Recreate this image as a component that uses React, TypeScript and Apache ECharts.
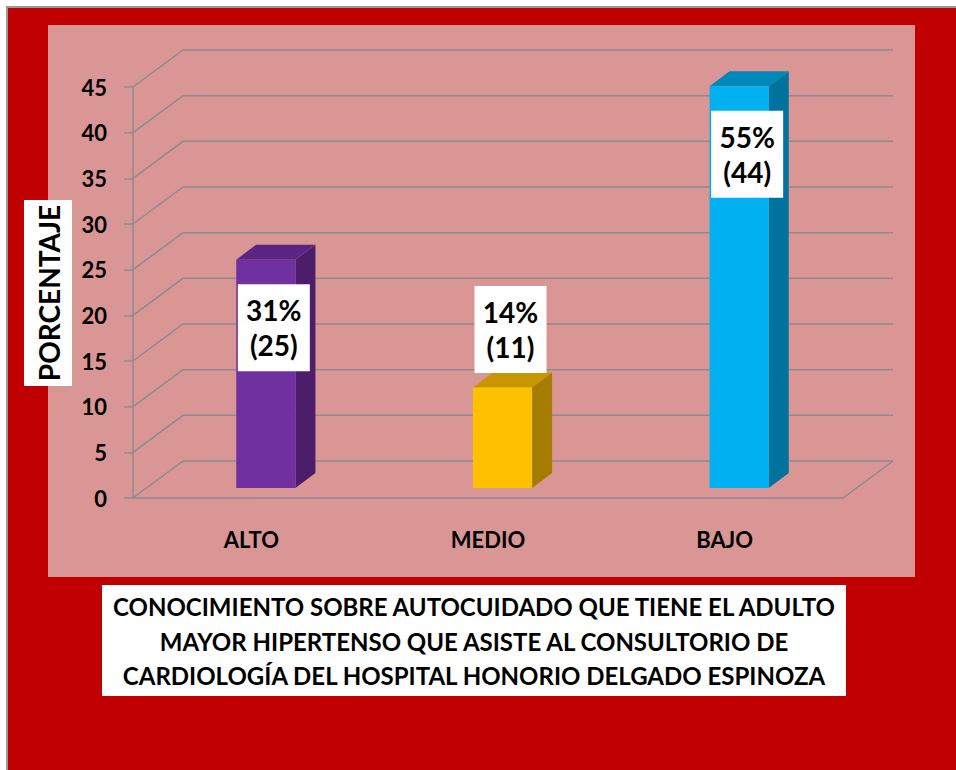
import React, { useEffect, useRef } from "react";
import * as echarts from "echarts";

const categories = ["ALTO", "MEDIO", "BAJO"];
const counts = [25, 11, 44];
const percents = [31, 14, 55];
const yTicks = [0, 5, 10, 15, 20, 25, 30, 35, 40, 45];
const yAxisTitle = "PORCENTAJE";
const titleLines = [
  "CONOCIMIENTO SOBRE AUTOCUIDADO QUE TIENE EL ADULTO",
  "MAYOR HIPERTENSO QUE ASISTE AL CONSULTORIO DE",
  "CARDIOLOGÍA DEL HOSPITAL HONORIO DELGADO ESPINOZA",
];

const palette = [
  { front: "#7030A0", side: "#4B1D6B", top: "#5A2585" },
  { front: "#FFC000", side: "#A67C00", top: "#C89600" },
  { front: "#00B0F0", side: "#00729E", top: "#0088BA" },
];

const FONT = "Lato, 'Noto Sans', sans-serif";
const GRID_COLOR = "#8C8C8C";
const WALL_DX = 50;
const WALL_DY = 37;
const BAR_OX = 14.5;
const BAR_OY = 10;
const SIDE_DX = 20;
const SIDE_DY = 15;

export default function App() {
  const ref = useRef<HTMLDivElement>(null);

  useEffect(() => {
    if (!ref.current) return;
    const chart = echarts.init(ref.current, undefined, { renderer: "svg" });

    const option: any = {
      animation: false,
      backgroundColor: "#FFFFFF",
      grid: { left: 133, right: 113, top: 87, bottom: 272, containLabel: false },
      xAxis: {
        type: "category",
        data: categories,
        axisLine: { show: true, lineStyle: { color: GRID_COLOR, width: 1.5 } },
        axisTick: { show: false },
        axisLabel: {
          color: "#000",
          fontFamily: FONT,
          fontWeight: "bold",
          fontSize: 22,
          margin: 30,
        },
        splitLine: { show: false },
      },
      yAxis: {
        type: "value",
        min: 0,
        max: 45,
        interval: 5,
        axisLine: { show: true, lineStyle: { color: GRID_COLOR, width: 1.5 } },
        axisTick: { show: true, length: 9, lineStyle: { color: GRID_COLOR, width: 1.5 } },
        axisLabel: {
          color: "#000",
          fontFamily: FONT,
          fontWeight: "bold",
          fontSize: 22,
          margin: 26,
        },
        splitLine: { show: false },
      },
      graphic: [
        {
          type: "rect",
          z: -10,
          shape: { x: 7, y: 7, width: 960, height: 770 },
          style: { fill: "#C00000", stroke: "#9A9A9A", lineWidth: 2 },
          silent: true,
        },
        {
          type: "rect",
          z: -9,
          shape: { x: 48, y: 25, width: 867, height: 552 },
          style: { fill: "#D99694" },
          silent: true,
        },
        {
          type: "rect",
          z: 10,
          shape: { x: 24, y: 200, width: 48, height: 186 },
          style: { fill: "#FFFFFF" },
          silent: true,
        },
        {
          type: "text",
          z: 11,
          x: 49,
          y: 293,
          rotation: Math.PI / 2,
          style: {
            text: yAxisTitle,
            fill: "#000",
            font: `bold 28px ${FONT}`,
            align: "center",
            verticalAlign: "middle",
          },
          silent: true,
        },
        {
          type: "rect",
          z: 10,
          shape: { x: 102, y: 585, width: 744, height: 111 },
          style: { fill: "#FFFFFF" },
          silent: true,
        },
        {
          type: "text",
          z: 11,
          x: 474,
          y: 641,
          style: {
            text: titleLines.join("\n"),
            fill: "#000",
            font: `bold 24px ${FONT}`,
            lineHeight: 34.5,
            align: "center",
            verticalAlign: "middle",
          },
          silent: true,
        },
      ],
      series: [
        {
          type: "custom",
          name: "walls",
          clip: false,
          z: 1,
          silent: true,
          encode: { x: 0, y: 1 },
          data: yTicks.map((v) => [0, v]),
          renderItem: (params: any, api: any) => {
            const cs = params.coordSys;
            const v = api.value(1);
            const y = api.coord([0, v])[1];
            const x0 = cs.x;
            const x1 = cs.x + cs.width;
            const children: any[] = [
              {
                type: "polyline",
                shape: {
                  points: [
                    [x0, y],
                    [x0 + WALL_DX, y - WALL_DY],
                    [x1 + WALL_DX, y - WALL_DY],
                  ],
                },
                style: { stroke: GRID_COLOR, lineWidth: 1.5, fill: "none" },
              },
            ];
            if (v === 0) {
              children.push({
                type: "line",
                shape: { x1: x1, y1: y, x2: x1 + WALL_DX, y2: y - WALL_DY },
                style: { stroke: GRID_COLOR, lineWidth: 1.5 },
              });
            }
            return { type: "group", children };
          },
        },
        {
          type: "custom",
          name: "bars",
          clip: false,
          z: 5,
          encode: { x: 0, y: 1 },
          data: counts.map((v, i) => [i, v, percents[i]]),
          renderItem: (params: any, api: any) => {
            const i = api.value(0);
            const v = api.value(1);
            const p = api.value(2);
            const base = api.coord([i, 0]);
            const top = api.coord([i, v]);
            const band = api.size([1, 0])[0];
            const w = band * 0.25;
            const cx = base[0] + BAR_OX;
            const x0 = cx - w / 2;
            const x1 = cx + w / 2;
            const yb = base[1] - BAR_OY;
            const yt = top[1] - BAR_OY;
            const c = palette[i % palette.length];
            const ly = yb - yt > 150 ? yt + 68 : yt - 58;
            const lx = cx + 8;
            return {
              type: "group",
              children: [
                {
                  type: "polygon",
                  shape: { points: [[x1, yb], [x1 + SIDE_DX, yb - SIDE_DY], [x1 + SIDE_DX, yt - SIDE_DY], [x1, yt]] },
                  style: { fill: c.side },
                },
                {
                  type: "polygon",
                  shape: { points: [[x0, yt], [x0 + SIDE_DX, yt - SIDE_DY], [x1 + SIDE_DX, yt - SIDE_DY], [x1, yt]] },
                  style: { fill: c.top },
                },
                {
                  type: "rect",
                  shape: { x: x0, y: yt, width: w, height: yb - yt },
                  style: { fill: c.front },
                },
                {
                  type: "rect",
                  shape: { x: lx - 36, y: ly - 43.5, width: 72, height: 87 },
                  style: { fill: "#FFFFFF" },
                },
                {
                  type: "text",
                  x: lx,
                  y: ly,
                  style: {
                    text: `${p}%\n(${v})`,
                    fill: "#000",
                    font: `bold 28px ${FONT}`,
                    lineHeight: 35,
                    align: "center",
                    verticalAlign: "middle",
                  },
                },
              ],
            };
          },
        },
      ],
    };

    chart.setOption(option);
    return () => chart.dispose();
  }, []);

  return (
    <div
      ref={ref}
      style={{ position: "fixed", left: 0, top: 0, width: 956, height: 770 }}
    />
  );
}
